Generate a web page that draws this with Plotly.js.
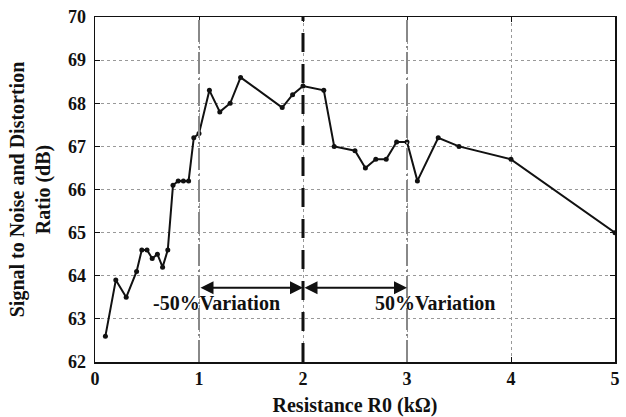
<!DOCTYPE html>
<html>
<head>
<meta charset="utf-8">
<script src="https://cdn.plot.ly/plotly-3.0.1.min.js"></script>
<style>html,body{margin:0;padding:0;background:#fff;}#chart{width:626px;height:417px;}</style>
</head>
<body>
<div id="chart"></div>
<script>
const resistance = [0.1, 0.2, 0.3, 0.4, 0.45, 0.5, 0.55, 0.6, 0.65, 0.7, 0.75, 0.8, 0.85, 0.9, 0.95, 1.0, 1.1, 1.2, 1.3, 1.4, 1.8, 1.9, 2.0, 2.2, 2.3, 2.5, 2.6, 2.7, 2.8, 2.9, 3.0, 3.1, 3.3, 3.5, 4.0, 5.0];
const sinad = [62.6, 63.9, 63.5, 64.1, 64.6, 64.6, 64.4, 64.5, 64.2, 64.6, 66.1, 66.2, 66.2, 66.2, 67.2, 67.3, 68.3, 67.8, 68.0, 68.6, 67.9, 68.2, 68.4, 68.3, 67.0, 66.9, 66.5, 66.7, 66.7, 67.1, 67.1, 66.2, 67.2, 67.0, 66.7, 65.0];
const xTicks = [0, 1, 2, 3, 4, 5];
const yTicks = [62, 63, 64, 65, 66, 67, 68, 69, 70];
const variationBounds = [1, 2, 3];
const arrowLevel = 63.72;
const labels = ["-50%Variation", "50%Variation"];
const labelX = [1.17, 3.27];
const labelY = 63.36;

const font = "Liberation Serif";

const trace = {
  x: resistance, y: sinad, type: 'scatter', mode: 'lines+markers',
  line: {color: '#111', width: 2},
  marker: {color: '#111', size: 5},
  hoverinfo: 'skip', showlegend: false
};

const shapes = [
  {type: 'line', xref: 'x', yref: 'paper', x0: variationBounds[0], x1: variationBounds[0], y0: 0, y1: 1,
   line: {color: '#888', width: 2, dash: '22px,4px,2px,4px'}},
  {type: 'line', xref: 'x', yref: 'paper', x0: variationBounds[2], x1: variationBounds[2], y0: 0, y1: 1,
   line: {color: '#888', width: 2, dash: '22px,4px,2px,4px'}},
  {type: 'line', xref: 'x', yref: 'paper', x0: variationBounds[1], x1: variationBounds[1], y0: 0, y1: 1,
   line: {color: '#111', width: 3, dash: '19px,12px'}}
];

const annotations = [
  {x: variationBounds[1], y: arrowLevel, ax: variationBounds[0], ay: arrowLevel, xref: 'x', yref: 'y', axref: 'x', ayref: 'y',
   text: '', showarrow: true, arrowhead: 2, startarrowhead: 2, arrowside: 'end+start', arrowsize: 1.3, arrowwidth: 2, arrowcolor: '#111'},
  {x: variationBounds[2], y: arrowLevel, ax: variationBounds[1], ay: arrowLevel, xref: 'x', yref: 'y', axref: 'x', ayref: 'y',
   text: '', showarrow: true, arrowhead: 2, startarrowhead: 2, arrowside: 'end+start', arrowsize: 1.3, arrowwidth: 2, arrowcolor: '#111'},
  {x: labelX[0], y: labelY, xref: 'x', yref: 'y', text: '<b>' + labels[0] + '</b>', showarrow: false,
   font: {family: font, size: 20, color: '#111'}},
  {x: labelX[1], y: labelY, xref: 'x', yref: 'y', text: '<b>' + labels[1] + '</b>', showarrow: false,
   font: {family: font, size: 20, color: '#111'}}
];

const layout = {
  width: 626, height: 417,
  margin: {l: 95, r: 11, t: 17, b: 55},
  paper_bgcolor: '#fff', plot_bgcolor: '#fff',
  font: {family: font, color: '#111'},
  xaxis: {
    range: [0, 5], tickvals: xTicks, ticktext: xTicks.map(v => '<b>' + v + '</b>'),
    tickfont: {family: font, size: 18, color: '#111'},
    showgrid: true, gridcolor: '#999', gridwidth: 1, griddash: 'dot',
    showline: true, linecolor: '#111', linewidth: 1.5, mirror: 'ticks',
    ticks: 'inside', ticklen: 5, tickcolor: '#111', zeroline: false,
    title: {text: '<b>Resistance R0 (kΩ)</b>', font: {family: font, size: 20, color: '#111'}, standoff: 10}
  },
  yaxis: {
    range: [62, 70], tickvals: yTicks, ticktext: yTicks.map(v => '<b>' + v + '</b>'),
    tickfont: {family: font, size: 18, color: '#111'},
    showgrid: true, gridcolor: '#999', gridwidth: 1, griddash: 'dot',
    showline: true, linecolor: '#111', linewidth: 1.5, mirror: 'ticks',
    ticks: 'inside', ticklen: 5, tickcolor: '#111', zeroline: false,
    ticklabelstandoff: 4,
    title: {text: '<b>Signal to Noise and Distortion<br>Ratio (dB)</b>', font: {family: font, size: 20, color: '#111'}, standoff: 12}
  },
  shapes: shapes,
  annotations: annotations,
  showlegend: false
};

Plotly.newPlot('chart', [trace], layout, {displayModeBar: false, staticPlot: true});
</script>
</body>
</html>
